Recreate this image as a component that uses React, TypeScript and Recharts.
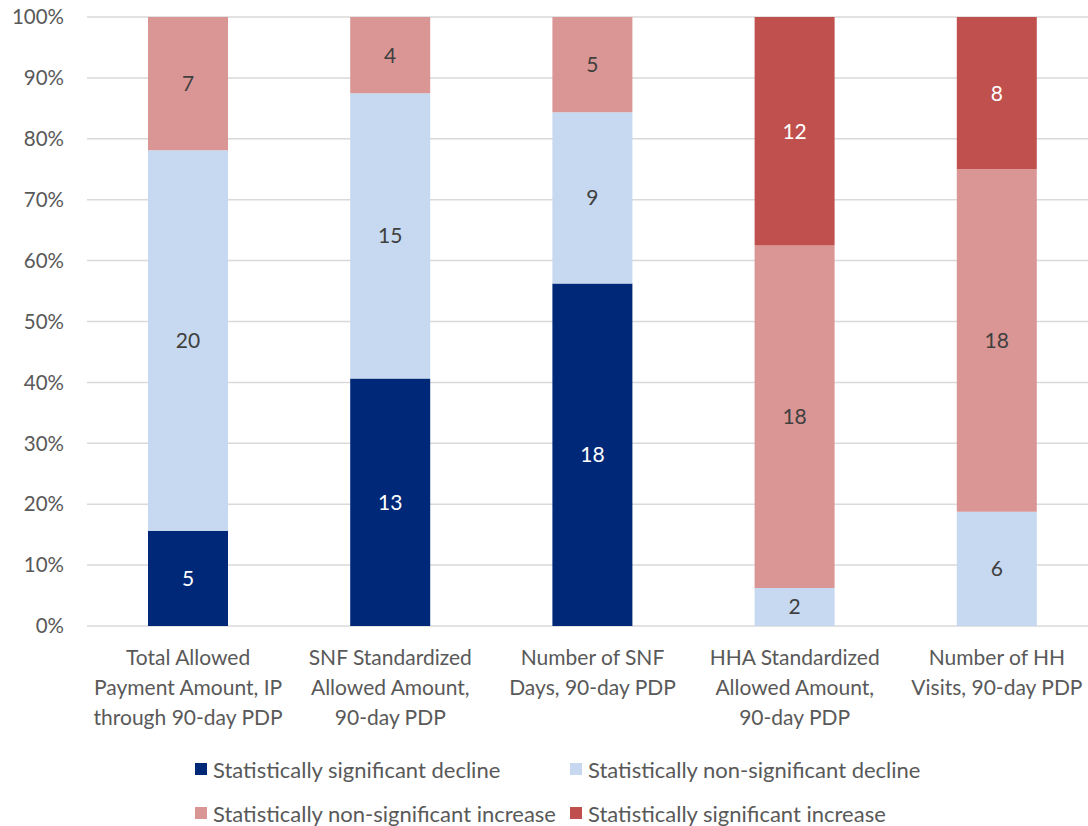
import React from "react";
import {
  BarChart,
  Bar,
  XAxis,
  YAxis,
  CartesianGrid,
  Legend,
  LabelList,
} from "recharts";

// Measure categories (x axis), one label line per "\n"
const categories = [
  "Total Allowed\nPayment Amount, IP\nthrough 90-day PDP",
  "SNF Standardized\nAllowed Amount,\n90-day PDP",
  "Number of SNF\nDays, 90-day PDP",
  "HHA Standardized\nAllowed Amount,\n90-day PDP",
  "Number of HH\nVisits, 90-day PDP",
];

// Counts of markets per result type
const sigDecline = [5, 13, 18, 0, 0];
const nonSigDecline = [20, 15, 9, 2, 6];
const nonSigIncrease = [7, 4, 5, 18, 18];
const sigIncrease = [0, 0, 0, 12, 8];

const yTicks = [0, 0.1, 0.2, 0.3, 0.4, 0.5, 0.6, 0.7, 0.8, 0.9, 1];

const series = [
  { key: "sigDecline", name: "Statistically significant decline", color: "#002878", text: "#ffffff" },
  { key: "nonSigDecline", name: "Statistically non-significant decline", color: "#c6d9f0", text: "#404040" },
  { key: "nonSigIncrease", name: "Statistically non-significant increase", color: "#da9694", text: "#404040" },
  { key: "sigIncrease", name: "Statistically significant increase", color: "#c0504d", text: "#ffffff" },
];

const data = categories.map((c, i) => ({
  category: c,
  sigDecline: sigDecline[i],
  nonSigDecline: nonSigDecline[i],
  nonSigIncrease: nonSigIncrease[i],
  sigIncrease: sigIncrease[i],
}));

const FONT = "Lato, 'Open Sans', sans-serif";

function CategoryTick(props: any) {
  const { x, y, payload } = props;
  const lines = String(payload.value).split("\n");
  return (
    <text x={x} y={y} textAnchor="middle" fill="#595959" fontSize={21} fontFamily={FONT}>
      {lines.map((line, i) => (
        <tspan key={i} x={x} dy={i === 0 ? 31 : 30}>
          {line}
        </tspan>
      ))}
    </text>
  );
}

function LegendBox() {
  const rows = [
    [series[0], series[1]],
    [series[2], series[3]],
  ];
  return (
    <div style={{ paddingTop: 11, fontFamily: FONT, fontSize: 22, color: "#595959" }}>
      {rows.map((row, r) => (
        <div key={r} style={{ display: "flex", height: 44, alignItems: "center" }}>
          {row.map((s, c) => (
            <div
              key={s.key}
              style={{
                position: "absolute",
                left: c === 0 ? 195 : 570,
                display: "flex",
                alignItems: "center",
                whiteSpace: "nowrap",
              }}
            >
              <span style={{ width: 12, height: 12, background: s.color, marginRight: 6, display: "inline-block" }} />
              <span>{s.name}</span>
            </div>
          ))}
        </div>
      ))}
    </div>
  );
}

export default function App() {
  return (
    <div style={{ position: "absolute", left: 0, top: 0, width: 1088, height: 826, overflow: "hidden", background: "#fff" }}>
      <BarChart
        width={1100}
        height={826}
        data={data}
        stackOffset="expand"
        margin={{ top: 17, right: 2, bottom: 0, left: 0 }}
        barSize={80}
      >
        <CartesianGrid vertical={false} stroke="#d9d9d9" strokeWidth={1.5} />
        <XAxis
          dataKey="category"
          axisLine={false}
          tickLine={false}
          height={110}
          interval={0}
          tick={<CategoryTick />}
        />
        <YAxis
          width={87}
          domain={[0, 1]}
          ticks={yTicks}
          axisLine={false}
          tickLine={false}
          tickMargin={17}
          tickFormatter={(v: number) => `${Math.round(v * 100)}%`}
          tick={{ fill: "#595959", fontSize: 20.5, fontFamily: FONT }}
        />
        <Legend verticalAlign="bottom" height={90} content={() => <LegendBox />} />
        {series.map((s) => (
          <Bar key={s.key} dataKey={s.key} name={s.name} stackId="a" fill={s.color} isAnimationActive={false}>
            <LabelList
              dataKey={s.key}
              position="center"
              fill={s.text}
              fontSize={21}
              fontFamily={FONT}
              formatter={(v: any) => (v ? v : "")}
            />
          </Bar>
        ))}
      </BarChart>
    </div>
  );
}
